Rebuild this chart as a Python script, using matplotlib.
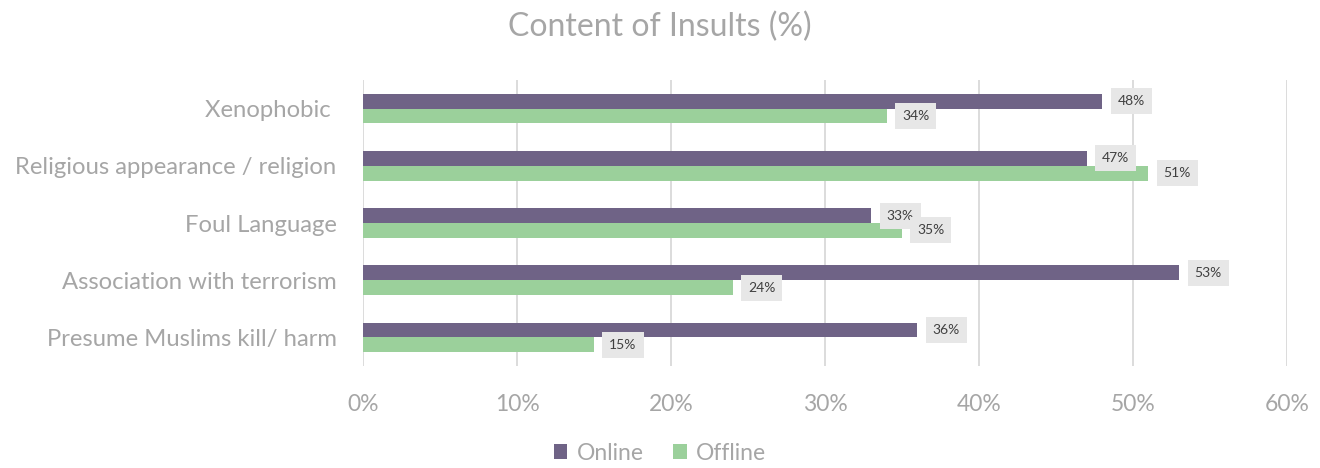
import matplotlib.pyplot as plt
import numpy as np
from matplotlib.ticker import FuncFormatter

categories = ["Xenophobic ", "Religious appearance / religion", "Foul Language",
              "Association with terrorism", "Presume Muslims kill/ harm"]
online = [48, 47, 33, 53, 36]
offline = [34, 51, 35, 24, 15]

purple = "#6f6386"
green = "#9bd09b"
grey_text = "#a6a6a6"

plt.rcParams['font.family'] = ['Lato', 'DejaVu Sans']

fig = plt.figure(figsize=(13.2, 4.68), dpi=100)
ax = fig.add_axes([0.275, 0.218, 0.7, 0.611])

y = np.arange(len(categories))
h = 0.26
b1 = ax.barh(y - h / 2, online, height=h, color=purple, label="Online")
b2 = ax.barh(y + h / 2, offline, height=h, color=green, label="Offline")

# value labels in grey boxes just past each bar end
for bars in (b1, b2):
    for bar in bars:
        v = bar.get_width()
        ax.annotate(f"{v:.0f}%", (v, bar.get_y() + bar.get_height() / 2),
                    xytext=(11, 0), textcoords="offset points",
                    ha="left", va="center", fontsize=10, color="#404040",
                    bbox=dict(boxstyle="square,pad=0.5", fc="#e7e7e7", ec="none"))

ax.set_xlim(0, 60)
ax.set_ylim(len(categories) - 0.5, -0.5)
ax.set_xticks(range(0, 61, 10))
ax.xaxis.set_major_formatter(FuncFormatter(lambda v, p: f"{v:.0f}%"))
ax.set_yticks(y)
ax.set_yticklabels(categories)
ax.tick_params(axis="both", length=0, labelsize=16.5, colors=grey_text)
ax.tick_params(axis="y", labelsize=17.2, pad=19)
ax.tick_params(axis="x", pad=20)
ax.grid(axis="x", color="#d9d9d9", lw=1.3)
ax.set_axisbelow(True)
for s in ax.spines.values():
    s.set_visible(False)

fig.suptitle("Content of Insults (%)", y=0.975, fontsize=23, color=grey_text)
fig.legend(loc="lower center", bbox_to_anchor=(0.5, -0.035), ncol=2, frameon=False,
           fontsize=16.5, labelcolor=grey_text, handlelength=0.6, handleheight=0.6,
           columnspacing=1.3, handletextpad=0.4)

fig.savefig("out.png", dpi=100)
